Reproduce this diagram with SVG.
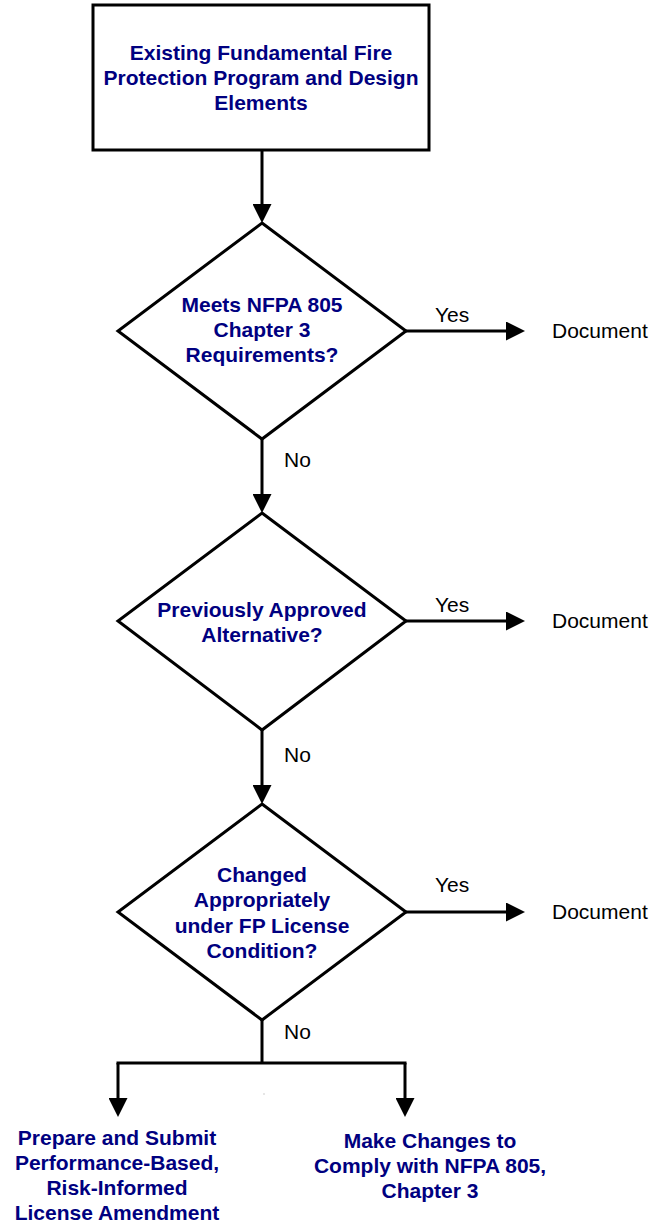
<svg xmlns="http://www.w3.org/2000/svg" width="652" height="1226" viewBox="0 0 652 1226">
<style>
.shape{fill:#fff;stroke:#000;stroke-width:3;stroke-linejoin:miter}
.con{fill:none;stroke:#000;stroke-width:3}
.t{font-family:"Liberation Sans",Arial,sans-serif;font-size:21px;font-weight:bold;fill:#000080;text-anchor:middle}
.lbl{font-family:"Liberation Sans",Arial,sans-serif;font-size:21px;fill:#000}
</style>
<defs>
<marker id="ah" markerUnits="userSpaceOnUse" markerWidth="19" markerHeight="19" refX="11" refY="9.5" orient="auto">
<path d="M0,0 L19,9.5 L0,19 z" fill="#000"/>
</marker>
</defs>
<rect width="652" height="1226" fill="#fff"/>

<g id="connectors">
<line class="con" x1="262" y1="150" x2="262" y2="215" marker-end="url(#ah)"/>
<line class="con" x1="406" y1="331" x2="517" y2="331" marker-end="url(#ah)"/>
<line class="con" x1="262" y1="439" x2="262" y2="505" marker-end="url(#ah)"/>
<line class="con" x1="406" y1="621" x2="517" y2="621" marker-end="url(#ah)"/>
<line class="con" x1="262" y1="730" x2="262" y2="796" marker-end="url(#ah)"/>
<line class="con" x1="406" y1="912" x2="517" y2="912" marker-end="url(#ah)"/>
<line class="con" x1="262" y1="1020" x2="262" y2="1063"/>
<line class="con" x1="116.5" y1="1063" x2="406.5" y2="1063"/>
<line class="con" x1="118" y1="1063" x2="118" y2="1109" marker-end="url(#ah)"/>
<line class="con" x1="405" y1="1063" x2="405" y2="1109" marker-end="url(#ah)"/>
<text class="lbl" x="435" y="322">Yes</text>
<text class="lbl" x="284" y="467">No</text>
<text class="lbl" x="435" y="612">Yes</text>
<text class="lbl" x="284" y="762">No</text>
<text class="lbl" x="435" y="892">Yes</text>
<text class="lbl" x="284" y="1039">No</text>
<circle cx="264" cy="1094" r="0.7" fill="#bbb"/>
</g>

<g id="start">
<rect class="shape" x="93" y="5" width="336" height="145"/>
<text class="t" x="261" y="60">Existing Fundamental Fire</text>
<text class="t" x="261" y="85">Protection Program and Design</text>
<text class="t" x="261" y="110">Elements</text>
</g>

<g id="decision1">
<polygon class="shape" points="262,223 406,331 262,439 118,331"/>
<text class="t" x="262" y="311.5">Meets NFPA 805</text>
<text class="t" x="262" y="337">Chapter 3</text>
<text class="t" x="262" y="362">Requirements?</text>
</g>

<g id="decision2">
<polygon class="shape" points="262,513 406,621 262,730 118,621"/>
<text class="t" x="262" y="616.5">Previously Approved</text>
<text class="t" x="262" y="642">Alternative?</text>
</g>

<g id="decision3">
<polygon class="shape" points="262,804 406,912 262,1020 118,912"/>
<text class="t" x="262" y="882">Changed</text>
<text class="t" x="262" y="907">Appropriately</text>
<text class="t" x="262" y="933">under FP License</text>
<text class="t" x="262" y="958">Condition?</text>
</g>

<g id="doc1"><text class="lbl" x="552" y="338">Document</text></g>
<g id="doc2"><text class="lbl" x="552" y="628">Document</text></g>
<g id="doc3"><text class="lbl" x="552" y="919">Document</text></g>

<g id="amendment">
<text class="t" x="117" y="1145">Prepare and Submit</text>
<text class="t" x="117" y="1170">Performance-Based,</text>
<text class="t" x="117" y="1195">Risk-Informed</text>
<text class="t" x="117" y="1220">License Amendment</text>
</g>

<g id="changes">
<text class="t" x="430" y="1148">Make Changes to</text>
<text class="t" x="430" y="1173">Comply with NFPA 805,</text>
<text class="t" x="430" y="1198">Chapter 3</text>
</g>
</svg>
